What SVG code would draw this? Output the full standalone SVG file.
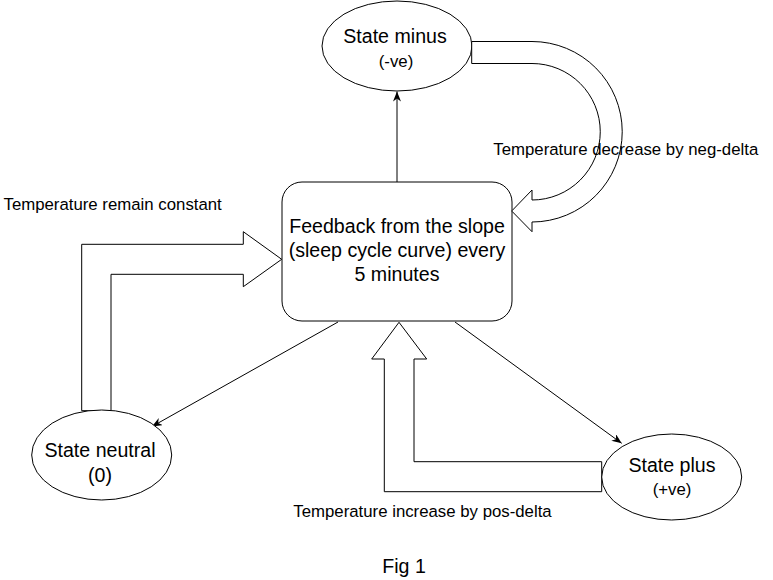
<svg xmlns="http://www.w3.org/2000/svg" width="773" height="580" viewBox="0 0 773 580">
<style>
  .shape { fill: #ffffff; stroke: #000000; stroke-width: 1; }
  .edge { fill: none; stroke: #000000; stroke-width: 1; }
  .flex { fill: #ffffff; stroke: #000000; stroke-width: 1; stroke-linejoin: miter; }
  .big { font-family: "Liberation Sans", Arial, Helvetica, sans-serif; font-size: 19.6px; fill: #000000; text-anchor: middle; }
  .small { font-family: "Liberation Sans", Arial, Helvetica, sans-serif; font-size: 16.8px; fill: #000000; }
  .smallc { font-family: "Liberation Sans", Arial, Helvetica, sans-serif; font-size: 16.8px; fill: #000000; text-anchor: middle; }
</style>
<defs>
  <marker id="arrow" viewBox="0 0 10 8" refX="10" refY="4" markerWidth="10" markerHeight="8" markerUnits="userSpaceOnUse" orient="auto">
    <path d="M0,0 L10,4 L0,8 L3,4 Z" fill="#000000"/>
  </marker>
</defs>
<rect width="773" height="580" fill="#ffffff"/>

<g id="connectors">
  <line class="edge" x1="397" y1="182" x2="397" y2="91.5" marker-end="url(#arrow)"/>
  <line class="edge" x1="338" y1="322" x2="152" y2="426.5" marker-end="url(#arrow)"/>
  <line class="edge" x1="455" y1="322" x2="621.7" y2="443.3" marker-end="url(#arrow)"/>
  <path class="flex" d="M81.7,410.7 L81.7,244.3 L243.3,244.3 L243.3,231.7 L281.7,259.3 L243.3,286.7 L243.3,274.3 L111,274.3 L111,410.7 Z"/>
  <path class="flex" d="M601.7,461.7 L414,461.7 L414,359 L426.7,359 L399,322.3 L371.7,359 L384.3,359 L384.3,491.7 L601.7,491.7 Z"/>
</g>

<g id="node-feedback">
  <rect class="shape" x="282" y="182" width="230" height="139" rx="20" ry="20"/>
  <text class="big" x="397" y="233">Feedback from the slope</text>
  <text class="big" x="397" y="257">(sleep cycle curve) every</text>
  <text class="big" x="397" y="281">5 minutes</text>
</g>

<g id="node-minus">
  <ellipse class="shape" cx="397" cy="46" rx="75" ry="45"/>
  <text class="big" x="395" y="43">State minus</text>
  <text class="smallc" x="396" y="67">(-ve)</text>
</g>

<g id="node-neutral">
  <ellipse class="shape" cx="101.7" cy="455" rx="70" ry="45"/>
  <text class="big" x="100" y="457">State neutral</text>
  <text class="big" x="100" y="482">(0)</text>
</g>

<g id="node-plus">
  <ellipse class="shape" cx="671.7" cy="477" rx="70" ry="43"/>
  <text class="big" x="672" y="472">State plus</text>
  <text class="smallc" x="672" y="495">(+ve)</text>
</g>

<g id="connector-minus-flex">
  <path class="flex" d="M471.7,41.5 L532,41.5 A90.25,90.25 0 0 1 532,222 L532,231.7 L511.7,211 L532,190 L532,200 A68.25,68.25 0 0 0 532,63.5 L471.7,63.5 Z"/>
</g>

<g id="labels">
  <text class="small" x="3.5" y="210">Temperature remain constant</text>
  <text class="small" x="493.3" y="155">Temperature decrease by neg-delta</text>
  <text class="small" x="293.3" y="517">Temperature increase by pos-delta</text>
  <text class="big" x="404" y="573">Fig 1</text>
</g>
</svg>
